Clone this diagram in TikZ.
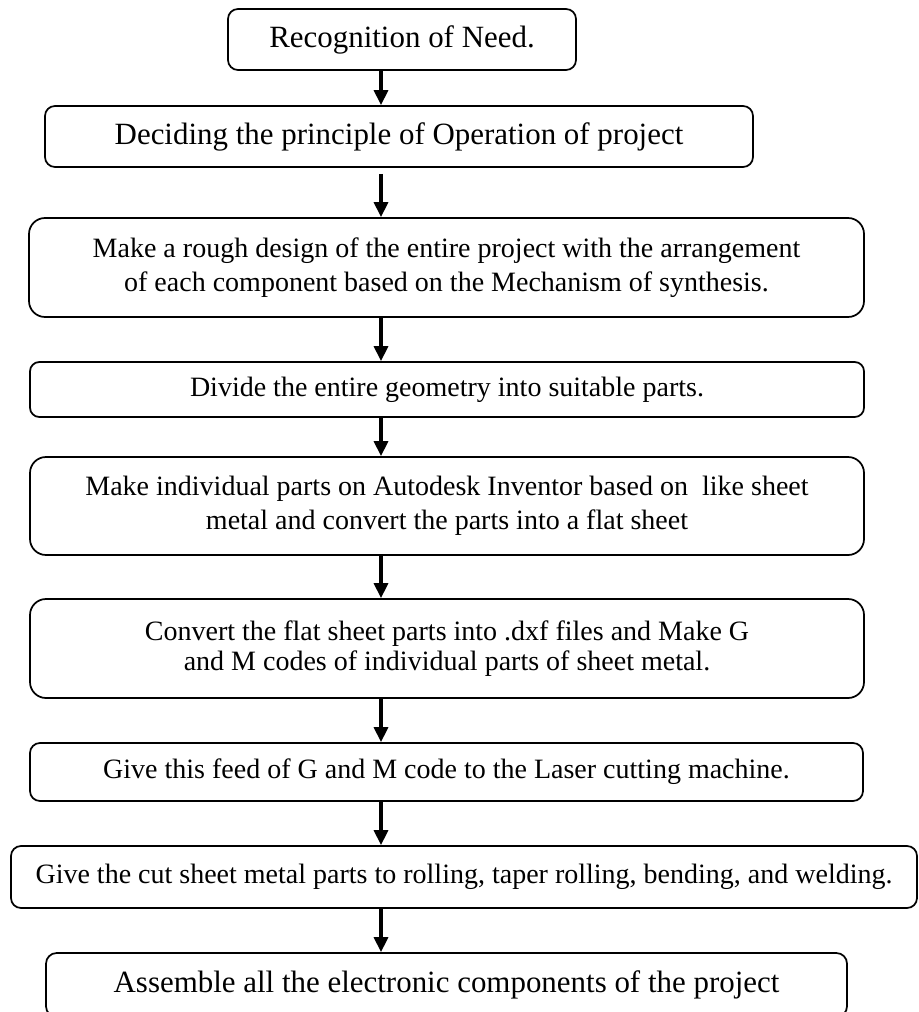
\documentclass[tikz,border=0pt]{standalone}
\usepackage{fontspec}
\setmainfont{Liberation Serif}
\usetikzlibrary{arrows.meta}
\tikzset{
  box/.style={draw, line width=1.3pt, inner sep=0pt, align=center},
  bigtxt/.style={font=\fontsize{23.2}{28}\selectfont},
  smalltxt/.style={font=\fontsize{21}{25.5}\selectfont},
  arr/.style={line width=2.4pt, -{Triangle[length=11.25pt,width=10.5pt]}}
}
\begin{document}
\begin{tikzpicture}[x=0.75pt,y=-0.75pt]
\useasboundingbox (0,0) rectangle (919,1012);
\clip (0,0) rectangle (919,1012);
\node[box, bigtxt, rounded corners=7.5pt, minimum width=261pt, minimum height=45.75pt] (b1) at (402,39.5) {Recognition of Need.};
\node[box, bigtxt, rounded corners=7.5pt, minimum width=531pt, minimum height=45.75pt] (b2) at (399,136.5) {Deciding the principle of Operation of project};
\node[box, smalltxt, rounded corners=12pt, minimum width=626.25pt, minimum height=74.25pt] (b3) at (446.5,267.5) {Make a rough design of the entire project with the arrangement\\ of each component based on the Mechanism of synthesis.};
\node[box, smalltxt, rounded corners=7pt, minimum width=625.5pt, minimum height=41.25pt] (b4) at (447,389.5) {Divide the entire geometry into suitable parts.};
\node[box, smalltxt, rounded corners=12pt, minimum width=625.5pt, minimum height=73.5pt] (b5) at (447,506) {Make individual parts on Autodesk Inventor based on\ \ like sheet\\ metal and convert the parts into a flat sheet};
\node[box, font=\fontsize{21}{22.5}\selectfont, rounded corners=12pt, minimum width=625.5pt, minimum height=74.25pt] (b6) at (447,648.5) {Convert the flat sheet parts into .dxf files and Make G\\ and M codes of individual parts of sheet metal.};
\node[box, smalltxt, rounded corners=7.5pt, minimum width=624.75pt, minimum height=43.5pt] (b7) at (446.5,772) {Give this feed of G and M code to the Laser cutting machine.};
\node[box, smalltxt, rounded corners=7.5pt, minimum width=679.5pt, minimum height=46.5pt] (b8) at (464,877) {Give the cut sheet metal parts to rolling, taper rolling, bending, and welding.};
\node[box, bigtxt, rounded corners=8pt, minimum width=600.75pt, minimum height=48pt] (b9) at (446.5,985) {Assemble all the electronic components of the project};
\coordinate (ax) at (381,0);
\draw[arr] (b1.south -| ax) -- (b2.north -| ax);
\draw[arr, shorten <=4.5pt] (b2.south -| ax) -- (b3.north -| ax);
\draw[arr] (b3.south -| ax) -- (b4.north -| ax);
\draw[arr] (b4.south -| ax) -- (b5.north -| ax);
\draw[arr] (b5.south -| ax) -- (b6.north -| ax);
\draw[arr] (b6.south -| ax) -- (b7.north -| ax);
\draw[arr] (b7.south -| ax) -- (b8.north -| ax);
\draw[arr] (b8.south -| ax) -- (b9.north -| ax);
\end{tikzpicture}
\end{document}
